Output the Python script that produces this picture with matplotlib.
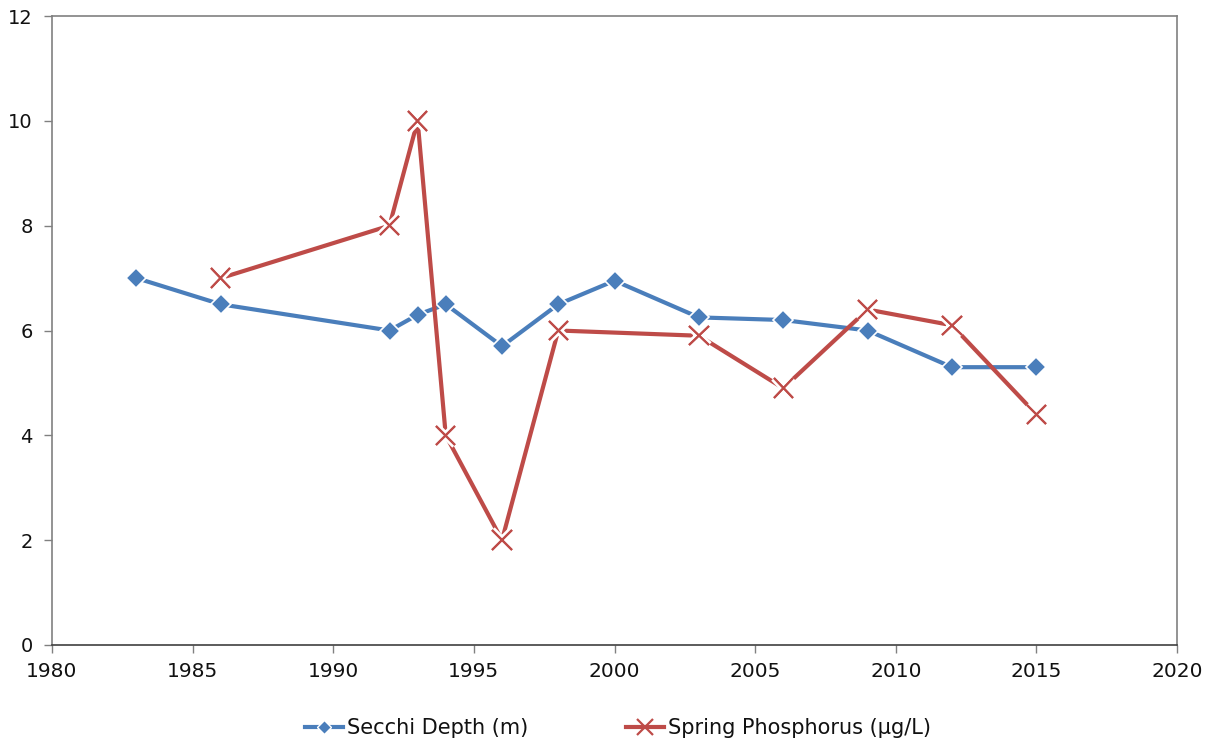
import matplotlib
matplotlib.use("Agg")
import matplotlib.pyplot as plt
import matplotlib.patheffects as pe
from matplotlib.lines import Line2D

secchi_years = [1983, 1986, 1992, 1993, 1994, 1996, 1998, 2000, 2003, 2006, 2009, 2012, 2015]
secchi_depth = [7.0, 6.5, 6.0, 6.3, 6.5, 5.7, 6.5, 6.95, 6.25, 6.2, 6.0, 5.3, 5.3]

phos_years = [1986, 1992, 1993, 1994, 1996, 1998, 2003, 2006, 2009, 2012, 2015]
phos_values = [7.0, 8.0, 10.0, 4.0, 2.0, 6.0, 5.9, 4.9, 6.4, 6.1, 4.4]

x_ticks = [1980, 1985, 1990, 1995, 2000, 2005, 2010, 2015, 2020]
y_ticks = [0, 2, 4, 6, 8, 10, 12]

blue = "#4A7EBB"
red = "#BE4B48"

plt.rcParams['font.family'] = ['DejaVu Sans']

fig = plt.figure(figsize=(12.12, 7.42), dpi=100)
ax = fig.add_axes([52/1212, 1 - 645/742, (1177-52)/1212, (645-16)/742])

ax.plot(secchi_years, secchi_depth, color=blue, lw=3, marker='D', ms=10,
        markerfacecolor=blue, markeredgecolor='white', markeredgewidth=1.2, zorder=3)
ax.plot(phos_years, phos_values, color=red, lw=3, zorder=4)
ax.plot(phos_years, phos_values, ls='none', marker='x', ms=14, mew=1.5, color=red,
        path_effects=[pe.withStroke(linewidth=5.5, foreground='white'), pe.Normal()], zorder=5)

ax.set_xlim(1980, 2020)
ax.set_ylim(0, 12)
ax.set_xticks(x_ticks)
ax.set_yticks(y_ticks)
ax.tick_params(axis='both', labelsize=14, color='#808080', length=6, width=1,
               direction='out', labelcolor='#111111')
ax.tick_params(axis='x', labelsize=14.5, pad=6)
ax.tick_params(axis='y', pad=8)
for s in ax.spines.values():
    s.set_color('#808080')
    s.set_linewidth(1.2)
ax.spines['bottom'].set_color('#404040')

h1 = Line2D([], [], color=blue, lw=3, marker='D', ms=7, markerfacecolor=blue,
            markeredgecolor='white', markeredgewidth=1)
h2 = Line2D([], [], color=red, lw=3, marker='x', ms=12, mew=1.6, markeredgecolor=red)
fig.legend([h1, h2], ["Secchi Depth (m)", "Spring Phosphorus (µg/L)"],
           loc='center', bbox_to_anchor=(618/1212, 1 - 728/742), ncol=2, frameon=False,
           fontsize=15, handlelength=1.8, handletextpad=0.2, columnspacing=4.7,
           labelcolor='#111111')

fig.savefig("out.png", dpi=100)
